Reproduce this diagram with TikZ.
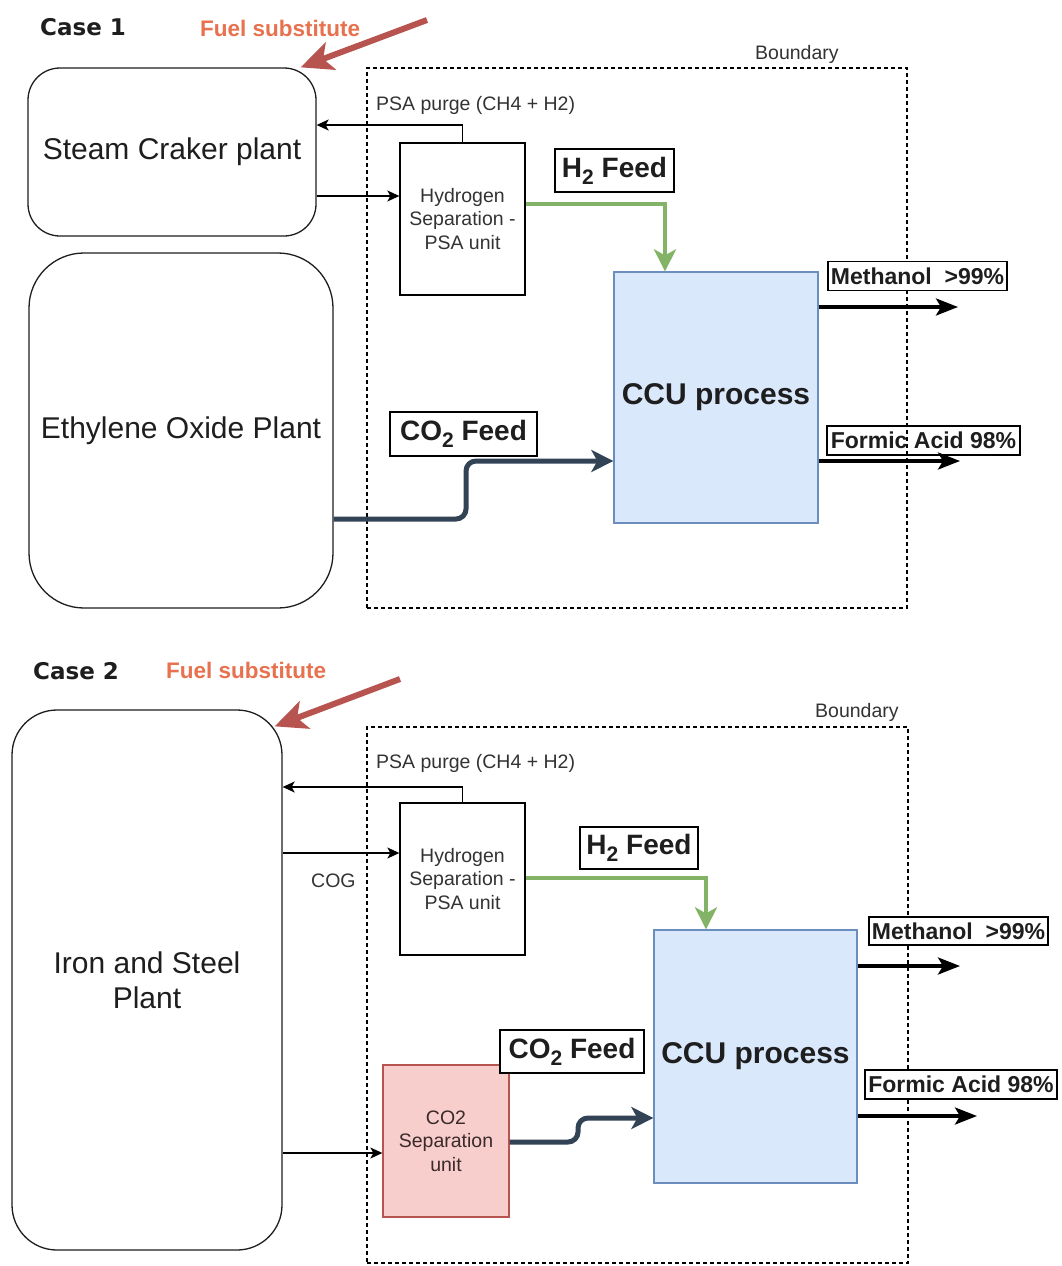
\documentclass[tikz,border=0pt]{standalone}
\usepackage{fontspec}
\setmainfont{Liberation Sans}
\newfontfamily\casefont{DejaVu Sans}
\usetikzlibrary{arrows.meta,calc}

\definecolor{ink}{HTML}{1E1E1E}
\definecolor{txtgray}{HTML}{333333}
\definecolor{ccufill}{HTML}{DAE8FC}
\definecolor{cculine}{HTML}{6C8EBF}
\definecolor{sepfill}{HTML}{F8CECC}
\definecolor{sepline}{HTML}{B85450}
\definecolor{septext}{HTML}{3A2A2A}
\definecolor{h2green}{HTML}{82B366}
\definecolor{co2dark}{HTML}{314354}
\definecolor{fuelred}{HTML}{B85450}
\definecolor{fuelorange}{HTML}{E8714F}

% lowered subscript digit for chemical formulas
\newcommand{\lowtwo}{\raisebox{-7pt}{\fontsize{21pt}{21pt}\selectfont 2}}

\begin{document}
\begin{tikzpicture}[x=1pt,y=-1pt,
  plant/.style={draw=ink, line width=1.3pt, inner sep=0pt, text=ink,
    font=\fontsize{30pt}{35pt}\selectfont, align=center},
  unitbox/.style={draw=black, line width=1.3pt, inner sep=0pt, text=txtgray,
    font=\fontsize{19.5pt}{23.5pt}\selectfont, align=center},
  ccubox/.style={draw=cculine, fill=ccufill, line width=1.3pt, inner sep=0pt, text=ink,
    font=\bfseries\fontsize{30pt}{35pt}\selectfont},
  feedtag/.style={draw=black, fill=white, line width=1.5pt, inner sep=0pt, text=ink,
    font=\bfseries\fontsize{28pt}{32pt}\selectfont},
  prodtag/.style={draw=black, fill=white, line width=1.5pt, inner sep=0pt, text=ink,
    font=\bfseries\fontsize{23pt}{26pt}\selectfont},
  note/.style={inner sep=0pt, text=txtgray, font=\fontsize{19.5pt}{23pt}\selectfont},
  bound/.style={draw=black, line width=1.3pt, dash pattern=on 4pt off 3pt, inner sep=0pt},
  flow/.style={draw=black, line width=1.3pt, -{Stealth[length=12pt,width=11pt,inset=3pt]}},
  hflow/.style={draw=h2green, line width=4pt, -{Stealth[length=22pt,width=22pt,inset=6pt]}},
  cflow/.style={draw=co2dark, line width=5pt, rounded corners=10pt,
    -{Stealth[length=22pt,width=22pt,inset=6pt]}},
  pflow/.style={draw=black, line width=3.5pt, -{Stealth[length=22pt,width=17pt,inset=5pt]}},
  fuelarrow/.style={draw=fuelred, line width=6pt, -{Stealth[length=32pt,width=29pt,inset=8pt]}},
  casetag/.style={inner sep=0pt, text=ink, font=\casefont\bfseries\fontsize{23pt}{26pt}\selectfont},
  fueltag/.style={inner sep=0pt, text=fuelorange, font=\bfseries\fontsize{22.5pt}{25pt}\selectfont},
]
\useasboundingbox (0,0) rectangle (1061,1266);
\fill[white] (0,0) rectangle (1061,1266);

% ================= Case 1 =================
\node[casetag, anchor=base west] (case1) at (40,35) {Case 1};
\node[fueltag, anchor=base west] (fuel1) at (200,36) {Fuel substitute};

\node[bound, minimum width=540pt, minimum height=540pt] (bd1) at (637,338) {};
\node[note, anchor=base west] (bdl1) at (755,59) {Boundary};
\node[note, anchor=base west] (pg1) at (376,110) {PSA purge (CH4 + H2)};

\node[plant, rounded corners=32pt, minimum width=288pt, minimum height=168pt] (sc) at (172,152)
  {Steam Craker plant};
\node[plant, rounded corners=55pt, minimum width=304pt, minimum height=355pt] (eo) at (181,430.5)
  {Ethylene Oxide Plant};
\node[unitbox, minimum width=125pt, minimum height=152pt] (psa1) at (462.5,219)
  {Hydrogen\\Separation -\\PSA unit};
\node[ccubox, minimum width=204pt, minimum height=251pt] (ccu1) at (716,397.5) {CCU process};

\coordinate (y1purge) at (0,125);
\coordinate (y1feed) at (0,196);
\coordinate (y1h2) at (0,204);
\coordinate (x1h2) at (665,0);
\coordinate (y1lo) at (0,519);
\coordinate (y1hi) at (0,461);
\coordinate (x1bend) at (466,0);
\coordinate (y1me) at (0,307);
\coordinate (me1end) at (958,307);
\coordinate (fa1end) at (960,461);
\coordinate (f1tail) at (427,20);

\draw[flow] (psa1.north) |- (sc.east |- y1purge);
\draw[flow] (sc.east |- y1feed) -- (psa1.west |- y1feed);
\draw[hflow] (psa1.east |- y1h2) -| (ccu1.north -| x1h2);
\draw[cflow] (eo.east |- y1lo) -- (x1bend |- y1lo) -- (x1bend |- y1hi) -- (ccu1.west |- y1hi);
\draw[pflow] (ccu1.east |- y1me) -- (me1end);
\draw[pflow] (ccu1.east |- y1hi) -- (fa1end);
\draw[fuelarrow] (f1tail) -- ($(sc.north east)+(-16,0)$);

\node[feedtag, minimum width=119pt, minimum height=43pt] (h2l1) at (614.5,170.5) {H\lowtwo{} Feed};
\node[feedtag, minimum width=147pt, minimum height=44pt] (co2l1) at (463.5,434) {CO\lowtwo{} Feed};
\node[prodtag, minimum width=179pt, minimum height=29pt] (me1) at (917.5,276) {Methanol\ \ {>}99\%};
\node[prodtag, fill=none, minimum width=193pt, minimum height=29pt] (fa1) at (923.5,440.5) {Formic Acid 98\%};

% ================= Case 2 =================
\node[casetag, anchor=base west] (case2) at (33,679) {Case 2};
\node[fueltag, anchor=base west] (fuel2) at (166,678) {Fuel substitute};

\node[bound, minimum width=541pt, minimum height=536pt] (bd2) at (637.5,995) {};
\node[note, anchor=base west] (bdl2) at (815,717) {Boundary};
\node[note, anchor=base west] (pg2) at (376,768) {PSA purge (CH4 + H2)};
\node[note, anchor=base west] (cog) at (311,887) {COG};

\node[plant, rounded corners=45pt, minimum width=270pt, minimum height=540pt] (isp) at (147,980)
  {Iron and Steel\\Plant};
\node[unitbox, minimum width=125pt, minimum height=152pt] (psa2) at (462.5,879)
  {Hydrogen\\Separation -\\PSA unit};
\node[unitbox, draw=sepline, fill=sepfill, text=septext, minimum width=126pt, minimum height=152pt] (sep2) at (446,1141)
  {CO2\\Separation\\unit};
\node[ccubox, minimum width=203pt, minimum height=253pt] (ccu2) at (755.5,1056.5) {CCU process};

\coordinate (y2purge) at (0,787);
\coordinate (y2cog) at (0,853);
\coordinate (y2h2) at (0,878);
\coordinate (x2h2) at (706,0);
\coordinate (y2gas) at (0,1153);
\coordinate (y2lo) at (0,1142);
\coordinate (y2hi) at (0,1118);
\coordinate (x2bend) at (578,0);
\coordinate (y2me) at (0,966);
\coordinate (y2fa) at (0,1116);
\coordinate (me2end) at (960,966);
\coordinate (fa2end) at (977,1116);
\coordinate (f2tail) at (400,679);

\draw[flow] (psa2.north) |- (isp.east |- y2purge);
\draw[flow] (isp.east |- y2cog) -- (psa2.west |- y2cog);
\draw[flow] (isp.east |- y2gas) -- (sep2.west |- y2gas);
\draw[hflow] (psa2.east |- y2h2) -| (ccu2.north -| x2h2);
\draw[cflow] (sep2.east |- y2lo) -- (x2bend |- y2lo) -- (x2bend |- y2hi) -- (ccu2.west |- y2hi);
\draw[pflow] (ccu2.east |- y2me) -- (me2end);
\draw[pflow] (ccu2.east |- y2fa) -- (fa2end);
\draw[fuelarrow] (f2tail) -- ($(isp.north east)+(-8,17)$);

\node[feedtag, minimum width=118pt, minimum height=42pt] (h2l2) at (639,848) {H\lowtwo{} Feed};
\node[feedtag, minimum width=144pt, minimum height=43pt] (co2l2) at (572,1051.5) {CO\lowtwo{} Feed};
\node[prodtag, minimum width=179pt, minimum height=28pt] (me2) at (958.5,931) {Methanol\ \ {>}99\%};
\node[prodtag, minimum width=192pt, minimum height=29pt] (fa2) at (961,1084.5) {Formic Acid 98\%};
\end{tikzpicture}
\end{document}
